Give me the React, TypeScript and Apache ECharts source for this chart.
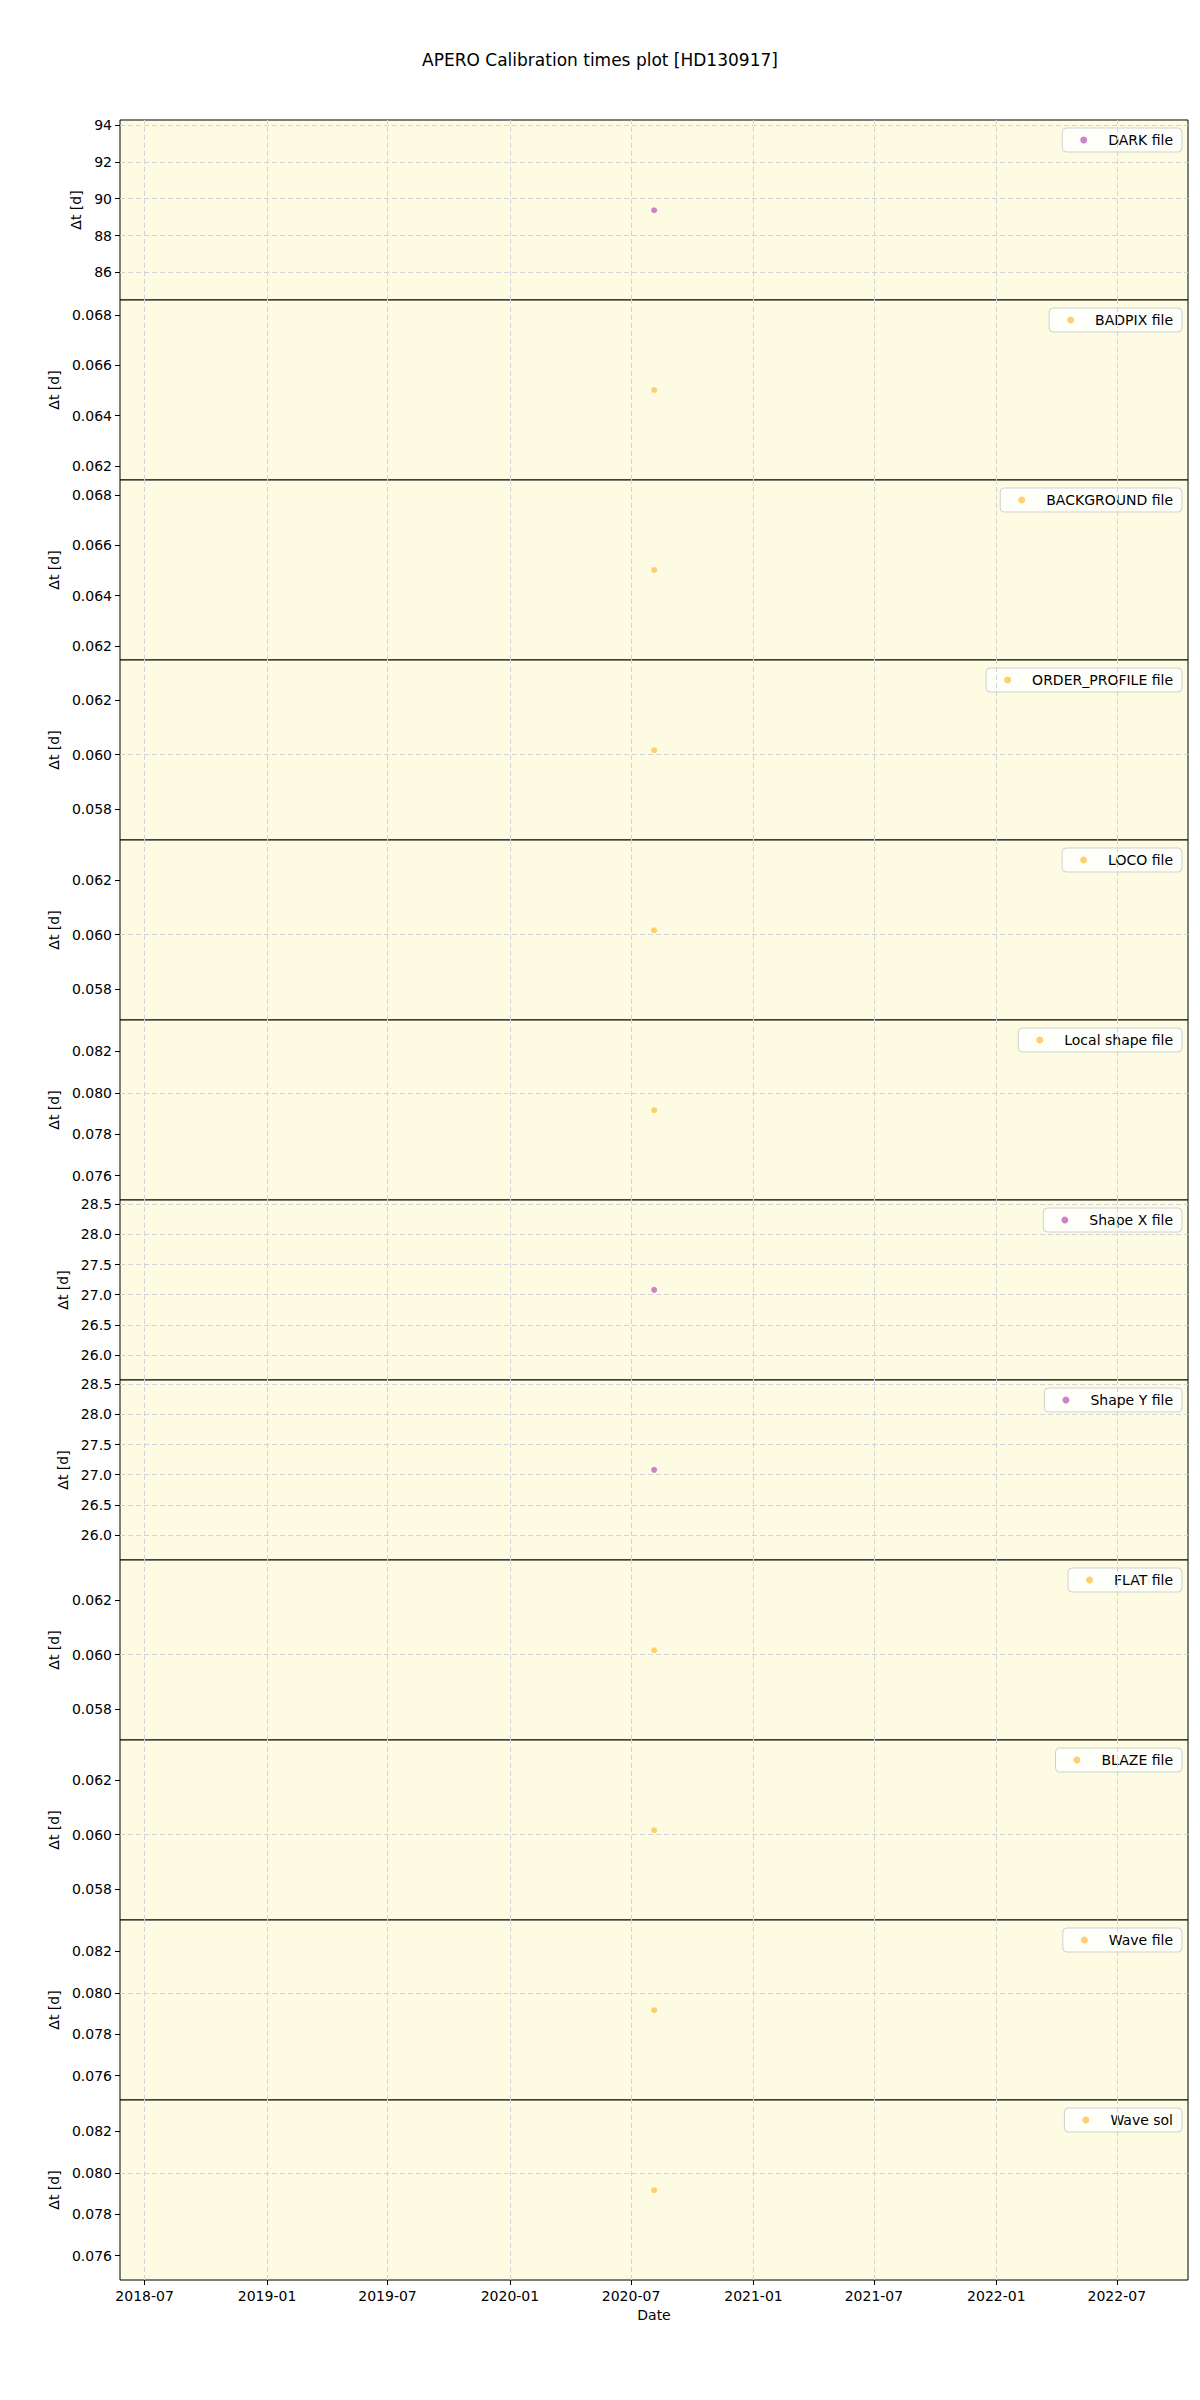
import React, { useEffect, useRef } from "react";
import * as echarts from "echarts";

// ---- data ----
const chartTitle = "APERO Calibration times plot [HD130917]";
const panelNames = [
  "DARK file",
  "BADPIX file",
  "BACKGROUND file",
  "ORDER_PROFILE file",
  "LOCO file",
  "Local shape file",
  "Shape X file",
  "Shape Y file",
  "FLAT file",
  "BLAZE file",
  "Wave file",
  "Wave sol",
];
const panelKinds = ["m", "o", "o", "o", "o", "o", "m", "m", "o", "o", "o", "o"];
const obsDate = "2020-08-04T17:00:00Z";
const panelValues = [89.37, 0.06502, 0.06502, 0.06016, 0.06016, 0.07916, 27.08, 27.08, 0.06016, 0.06016, 0.07916, 0.07916];
const yMins = [84.5, 0.06144, 0.06144, 0.05686, 0.05686, 0.07482, 25.585, 25.585, 0.05686, 0.05686, 0.07482, 0.07482];
const yMaxs = [94.27, 0.0686, 0.0686, 0.06348, 0.06348, 0.08352, 28.57, 28.57, 0.06348, 0.06348, 0.08352, 0.08352];
const ticksA = [86, 88, 90, 92, 94];
const ticksB = [0.062, 0.064, 0.066, 0.068];
const ticksC = [0.058, 0.06, 0.062];
const ticksD = [0.076, 0.078, 0.08, 0.082];
const ticksE = [26.0, 26.5, 27.0, 27.5, 28.0, 28.5];
const panelTicks = [ticksA, ticksB, ticksB, ticksC, ticksC, ticksD, ticksE, ticksE, ticksC, ticksC, ticksD, ticksD];
const panelDecimals = [0, 3, 3, 3, 3, 3, 1, 1, 3, 3, 3, 3];
const xMinDate = "2018-05-25";
const xMaxDate = "2022-10-16";
const xTickDates = ["2018-07-01", "2019-01-01", "2019-07-01", "2020-01-01", "2020-07-01", "2021-01-01", "2021-07-01", "2022-01-01", "2022-07-01"];

// ---- styles ----
const kindColor: Record<string, string> = { m: "#bf64ba", o: "#ffc24f" };
const FONT = "DejaVu Sans";
const BG = "#fdfce3";
const GRIDC = "#d3d3d9";

const ts = (s: string) => new Date(s.length === 10 ? s + "T00:00:00Z" : s).getTime();

function fmtDate(v: number) {
  const d = new Date(v);
  const m = d.getUTCMonth() + 1;
  return d.getUTCFullYear() + "-" + (m < 10 ? "0" + m : "" + m);
}

export default function App() {
  const ref = useRef<HTMLDivElement>(null);
  useEffect(() => {
    if (!ref.current) return;
    const chart = echarts.init(ref.current, undefined, { renderer: "svg" });
    const n = panelNames.length;
    const left = 120;
    const width = 1068;
    const top0 = 120;
    const ph = 180;
    const xMin = ts(xMinDate);
    const xMax = ts(xMaxDate);
    const xTicks = xTickDates.map(ts);
    const gapByDec: Record<number, number> = { 0: 35, 1: 48, 3: 57 };

    const grids: any[] = [];
    const xAxes: any[] = [];
    const yAxes: any[] = [];
    const series: any[] = [];
    const legends: any[] = [];

    for (let i = 0; i < n; i++) {
      const last = i === n - 1;
      const top = top0 + ph * i;
      grids.push({
        left,
        width,
        top,
        height: ph,
        show: true,
        backgroundColor: BG,
        borderColor: "#000",
        borderWidth: 1,
      });
      xAxes.push({
        gridIndex: i,
        type: "value",
        min: xMin,
        max: xMax,
        axisLine: { show: false },
        splitLine: { show: false },
        axisTick: {
          show: last,
          customValues: xTicks,
          length: 5,
          inside: false,
          lineStyle: { color: "#000", width: 1 },
        },
        axisLabel: {
          show: last,
          customValues: xTicks,
          formatter: (v: number) => fmtDate(v),
          margin: 9,
          color: "#000",
          fontSize: 14,
          fontFamily: FONT,
        },
        name: last ? "Date" : "",
        nameLocation: "middle",
        nameGap: 28,
        nameTextStyle: { color: "#000", fontSize: 14, fontFamily: FONT },
      });
      const dec = panelDecimals[i];
      yAxes.push({
        gridIndex: i,
        type: "value",
        min: yMins[i],
        max: yMaxs[i],
        axisLine: { show: false },
        splitLine: { show: false },
        axisTick: {
          show: true,
          customValues: panelTicks[i],
          length: 5,
          inside: false,
          lineStyle: { color: "#000", width: 1 },
        },
        axisLabel: {
          show: true,
          customValues: panelTicks[i],
          formatter: (v: number) => v.toFixed(dec),
          margin: 8,
          color: "#000",
          fontSize: 14,
          fontFamily: FONT,
        },
        name: "Δt [d]",
        nameLocation: "middle",
        nameGap: gapByDec[dec],
        nameTextStyle: { color: "#000", fontSize: 14, fontFamily: FONT },
      });
      const lineStyle = { color: GRIDC, type: [5, 3], width: 1 };
      series.push({
        name: "grid" + i,
        type: "line",
        xAxisIndex: i,
        yAxisIndex: i,
        data: [],
        z: 1,
        silent: true,
        markLine: {
          silent: true,
          symbol: ["none", "none"],
          label: { show: false },
          lineStyle,
          emphasis: { disabled: true },
          data: [
            ...xTicks.map((t) => ({ xAxis: t })),
            ...panelTicks[i].map((v) => ({ yAxis: v })),
          ],
        },
      });
      series.push({
        name: panelNames[i],
        type: "scatter",
        xAxisIndex: i,
        yAxisIndex: i,
        z: 3,
        symbolSize: 6,
        itemStyle: { color: kindColor[panelKinds[i]] },
        data: [[ts(obsDate), panelValues[i]]],
      });
      legends.push({
        data: [panelNames[i]],
        top: top + 8,
        right: 18,
        icon: "circle",
        itemWidth: 7,
        itemHeight: 7,
        selectedMode: false,
        backgroundColor: "rgba(255,255,255,0.8)",
        borderColor: "#cfcfcf",
        borderWidth: 1,
        borderRadius: 4,
        padding: [5, 9, 5, 18],
        textStyle: { color: "#000", fontSize: 14, fontFamily: FONT, padding: [0, 0, 0, 16] },
      });
    }

    chart.setOption({
      animation: false,
      backgroundColor: "#fff",
      title: {
        text: chartTitle,
        left: "center",
        top: 46,
        textStyle: { color: "#000", fontSize: 17, fontWeight: "normal", fontFamily: FONT },
      },
      grid: grids,
      xAxis: xAxes,
      yAxis: yAxes,
      legend: legends,
      series,
    });
    return () => chart.dispose();
  }, []);
  return (
    <div
      ref={ref}
      style={{ position: "absolute", left: 0, top: 0, width: 1200, height: 2400 }}
    />
  );
}
